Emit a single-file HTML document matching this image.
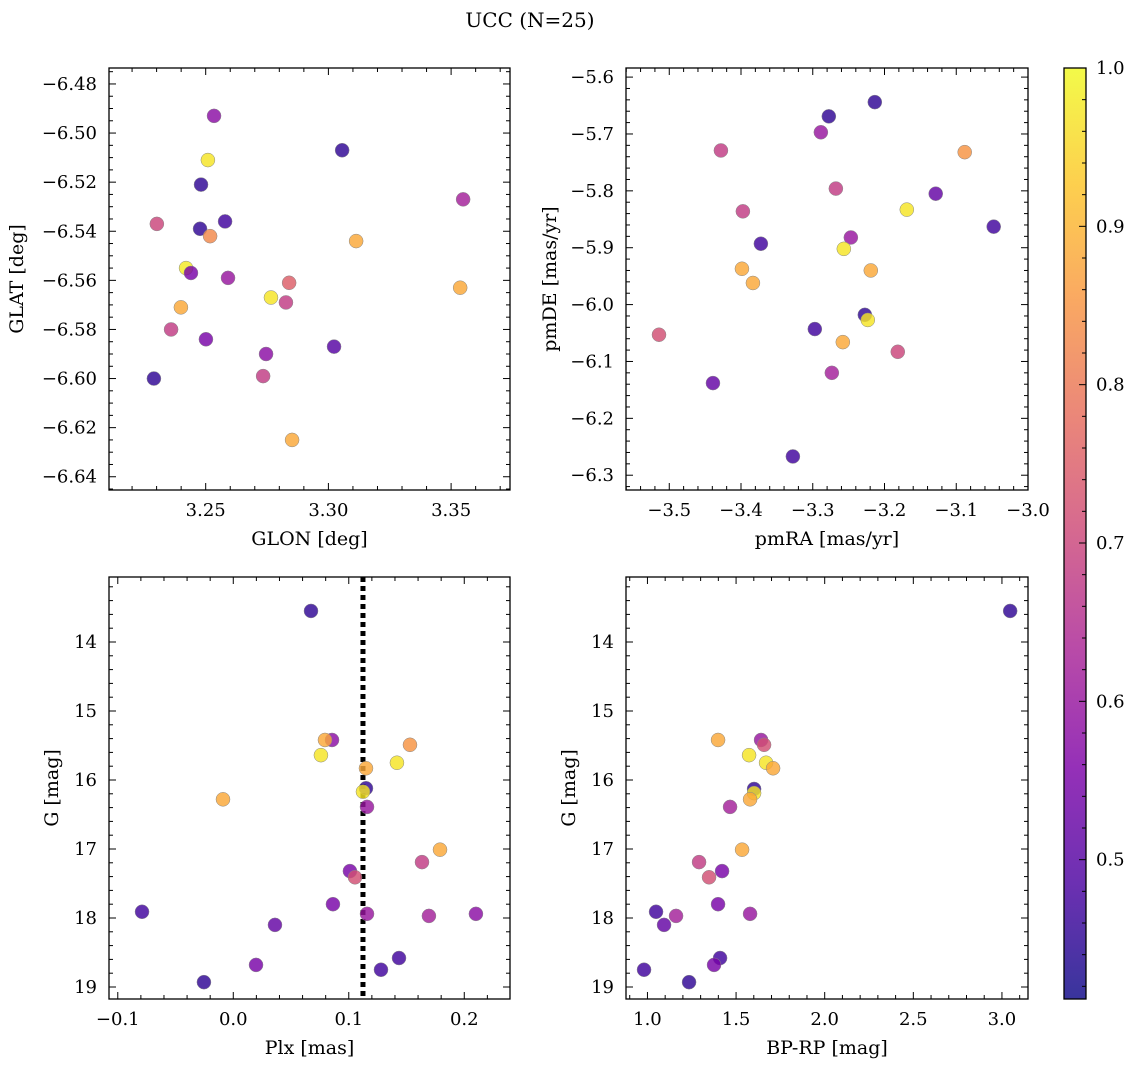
<!DOCTYPE html>
<html><head><meta charset="utf-8"><style>
body{margin:0;background:#fff}
svg text{font-family:"DejaVu Serif","Liberation Serif",serif;fill:#000}
</style></head><body>
<svg id="fig" width="1136" height="1067" viewBox="0 0 1136 1067" xmlns="http://www.w3.org/2000/svg">
<defs><linearGradient id="plasma" x1="0" y1="1" x2="0" y2="0">
<stop offset="0" stop-color="#0d0887"/><stop offset="0.125" stop-color="#4c02a1"/><stop offset="0.25" stop-color="#7e03a8"/><stop offset="0.375" stop-color="#a92395"/><stop offset="0.5" stop-color="#cc4778"/><stop offset="0.625" stop-color="#e66c5c"/><stop offset="0.75" stop-color="#f89540"/><stop offset="0.875" stop-color="#fdc527"/><stop offset="1" stop-color="#f0f921"/></linearGradient></defs>
<text x="530" y="27" font-size="20" text-anchor="middle">UCC (N=25)</text>
</svg>
<script>
// Panel 1: GLON vs GLAT
const glon=[3.2534,3.2509,3.3056,3.2481,3.3549,3.2301,3.2477,3.2579,3.2518,3.3113,3.2420,3.2440,3.2591,3.2840,3.2766,3.2827,3.3537,3.2399,3.2359,3.2501,3.3023,3.2746,3.2289,3.2734,3.2852];
const glat=[-6.493,-6.511,-6.507,-6.521,-6.527,-6.537,-6.539,-6.536,-6.542,-6.544,-6.555,-6.557,-6.559,-6.561,-6.567,-6.569,-6.563,-6.571,-6.580,-6.584,-6.587,-6.590,-6.600,-6.599,-6.625];
const prob1=[0.58,0.97,0.45,0.45,0.62,0.7,0.45,0.47,0.83,0.88,0.98,0.55,0.6,0.75,0.97,0.68,0.88,0.88,0.68,0.55,0.5,0.58,0.45,0.68,0.88];
// Panel 2: pmRA vs pmDE
const pmra=[-3.2135,-3.2776,-3.2887,-3.428,-3.0882,-3.2678,-3.1286,-3.1689,-3.3974,-3.2469,-3.3723,-3.2567,-3.0478,-3.3987,-3.3834,-3.2191,-3.2274,-3.2233,-3.2971,-3.5143,-3.2581,-3.1815,-3.2734,-3.4391,-3.3277];
const pmde=[-5.644,-5.669,-5.697,-5.729,-5.732,-5.796,-5.805,-5.833,-5.836,-5.882,-5.893,-5.902,-5.863,-5.937,-5.962,-5.940,-6.018,-6.027,-6.043,-6.053,-6.066,-6.083,-6.120,-6.138,-6.267];
const prob2=[0.45,0.45,0.6,0.68,0.85,0.68,0.52,0.97,0.68,0.6,0.47,0.97,0.47,0.88,0.88,0.88,0.45,0.97,0.47,0.72,0.88,0.7,0.62,0.52,0.47];
// Panel 3: Plx vs G
const plx=[0.0673,0.0855,0.0794,0.153,0.0759,0.1417,0.1149,0.1149,0.1123,-0.0089,0.1158,0.179,0.1634,0.101,0.1054,0.0863,-0.079,0.1158,0.1694,0.2101,0.0361,0.1435,0.0197,0.1279,-0.0254];
const gmag3=[13.55,15.42,15.42,15.49,15.64,15.75,15.83,16.12,16.17,16.28,16.39,17.01,17.19,17.32,17.41,17.80,17.91,17.94,17.97,17.94,18.10,18.58,18.68,18.75,18.93];
const prob3=[0.45,0.58,0.88,0.85,0.97,0.97,0.88,0.45,0.97,0.88,0.6,0.88,0.68,0.55,0.72,0.55,0.47,0.6,0.62,0.58,0.52,0.47,0.55,0.47,0.45];
const plxLine=[0.1123];
// Panel 4: BP-RP vs G
const bprp=[3.0463,1.3984,1.641,1.658,1.5734,1.6693,1.7088,1.6016,1.6016,1.579,1.4661,1.5339,1.2912,1.421,1.3476,1.3984,1.0485,1.579,1.1614,1.0937,1.4097,1.3758,0.9808,1.2348];
const gmag4=[13.55,15.42,15.42,15.49,15.64,15.75,15.83,16.13,16.19,16.28,16.39,17.01,17.19,17.32,17.41,17.80,17.91,17.94,17.97,18.10,18.58,18.68,18.75,18.93];
const prob4=[0.45,0.88,0.6,0.72,0.97,0.97,0.88,0.45,0.97,0.88,0.62,0.88,0.68,0.55,0.72,0.55,0.47,0.6,0.62,0.52,0.47,0.55,0.47,0.45];
const cbTicks=[0.5,0.6,0.7,0.8,0.9,1.0];

const NS='http://www.w3.org/2000/svg';
const svg=document.getElementById('fig');
function mk(tag,attrs,parent){const e=document.createElementNS(NS,tag);for(const k in attrs)e.setAttribute(k,attrs[k]);(parent||svg).appendChild(e);return e;}
const stops=[[0,[13,8,135]],[0.125,[76,2,161]],[0.25,[126,3,168]],[0.375,[169,35,149]],[0.5,[204,71,120]],[0.625,[230,108,92]],[0.75,[248,149,64]],[0.875,[253,197,39]],[1,[240,249,33]]];
const PMIN=0.412,PMAX=1.0;
function plasma(p){let t=(p-PMIN)/(PMAX-PMIN);t=Math.max(0,Math.min(1,t));for(let i=1;i<stops.length;i++){if(t<=stops[i][0]){const a=stops[i-1],b=stops[i];const f=(t-a[0])/(b[0]-a[0]);const c=a[1].map((v,j)=>Math.round(v+(b[1][j]-v)*f));return 'rgb('+c.join(',')+')';}}return 'rgb(240,249,33)';}
function fmt(v,d){const s=Math.abs(v).toFixed(d);return (v<-1e-9?'\u2212':'')+s;}
const TF=18,LF=19;

function panel(o){
  const g=mk('g',{});
  
  
  const X=v=>o.x0+(v-o.xmin)/(o.xmax-o.xmin)*(o.x1-o.x0);
  const Y=o.yinv?(v=>o.y0+(v-o.ymin)/(o.ymax-o.ymin)*(o.y1-o.y0)):(v=>o.y1-(v-o.ymin)/(o.ymax-o.ymin)*(o.y1-o.y0));
  const tk=mk('g',{stroke:'#000','stroke-width':1},g);
  
  
  const eps=1e-6;
  const xs0=Math.ceil(o.xmin/o.xmi-eps),xs1=Math.floor(o.xmax/o.xmi+eps);
  for(let k=xs0;k<=xs1;k++){const v=k*o.xmi;const px=X(v);const maj=Math.abs(v/o.xma-Math.round(v/o.xma))<1e-6;const L=maj?7:4;
    mk('line',{x1:px,x2:px,y1:o.y1,y2:o.y1-L},tk);mk('line',{x1:px,x2:px,y1:o.y0,y2:o.y0+L},tk);
    if(maj){const t=mk('text',{x:px,y:o.y1+26,'font-size':TF,'text-anchor':'middle'},g);t.textContent=fmt(v,o.xd);
      }}
  const lo=Math.min(o.ymin,o.ymax),hi=Math.max(o.ymin,o.ymax);
  for(let k=Math.ceil(lo/o.ymi-eps);k<=Math.floor(hi/o.ymi+eps);k++){const v=k*o.ymi;const py=Y(v);const maj=Math.abs(v/o.yma-Math.round(v/o.yma))<1e-6;const L=maj?7:4;
    mk('line',{x1:o.x0,x2:o.x0+L,y1:py,y2:py},tk);mk('line',{x1:o.x1,x2:o.x1-L,y1:py,y2:py},tk);
    if(maj){const t=mk('text',{x:o.x0-12,y:py+6,'font-size':TF,'text-anchor':'end'},g);t.textContent=fmt(v,o.yd);
      }}
  if(o.vline){o.vline.forEach(v=>{const l=mk('line',{x1:X(v),x2:X(v),y1:o.y0,y2:o.y1,stroke:'#000','stroke-width':5,'stroke-dasharray':'5,4'},g);
    });}
  for(let i=0;i<o.xs.length;i++){const c=mk('circle',{cx:X(o.xs[i]),cy:Y(o.ys[i]),r:7,fill:plasma(o.ps[i]),'fill-opacity':0.82,stroke:'#888','stroke-width':0.5},g);
    
    }
  const fr=mk('rect',{x:o.x0,y:o.y0,width:o.x1-o.x0,height:o.y1-o.y0,fill:'none',stroke:'#000','stroke-width':1.3},g);
  
  const xl=mk('text',{x:(o.x0+o.x1)/2,y:o.y1+55,'font-size':LF,'text-anchor':'middle'},g);xl.textContent=o.xlabel;
  
  const yx=o.ylx,yy=(o.y0+o.y1)/2;
  const yl=mk('text',{x:yx,y:yy,'font-size':LF,'text-anchor':'middle',transform:'rotate(-90 '+yx+' '+yy+')'},g);yl.textContent=o.ylabel;
  
}
panel({name:'glon-glat-panel',x0:109,x1:510,y0:68,y1:490,xmin:3.2106,xmax:3.374,ymin:-6.6454,ymax:-6.4735,xma:0.05,xmi:0.01,yma:0.02,ymi:0.005,xd:2,yd:2,xs:glon,ys:glat,ps:prob1,xlabel:'GLON [deg]',ylabel:'GLAT [deg]',ylx:23});
panel({name:'pm-panel',x0:626,x1:1028,y0:68,y1:490,xmin:-3.5603,xmax:-3.0,ymin:-6.326,ymax:-5.584,xma:0.1,xmi:0.02,yma:0.1,ymi:0.02,xd:1,yd:1,xs:pmra,ys:pmde,ps:prob2,xlabel:'pmRA [mas/yr]',ylabel:'pmDE [mas/yr]',ylx:556});
panel({name:'plx-g-panel',x0:109,x1:510,y0:577,y1:999,xmin:-0.1076,xmax:0.2396,ymin:13.058,ymax:19.174,yinv:true,xma:0.1,xmi:0.02,yma:1,ymi:0.2,xd:1,yd:0,xs:plx,ys:gmag3,ps:prob3,vline:plxLine,xlabel:'Plx [mas]',ylabel:'G [mag]',ylx:58});
panel({name:'cmd-panel',x0:626,x1:1028,y0:577,y1:999,xmin:0.879,xmax:3.147,ymin:13.058,ymax:19.174,yinv:true,xma:0.5,xmi:0.1,yma:1,ymi:0.2,xd:1,yd:0,xs:bprp,ys:gmag4,ps:prob4,xlabel:'BP-RP [mag]',ylabel:'G [mag]',ylx:575});
const cb=mk('g',{});


const cy0=68,cy1=999,cx0=1064,cx1=1086;
const CY=v=>cy1-(v-PMIN)/(PMAX-PMIN)*(cy1-cy0);
mk('rect',{x:cx0,y:cy0,width:cx1-cx0,height:cy1-cy0,fill:'url(#plasma)','fill-opacity':0.82},cb);
for(let k=21;k<=50;k++){const v=k*0.02;const py=CY(v);const maj=(k%5===0);mk('line',{x1:cx1,x2:cx1-(maj?7:4),y1:py,y2:py,stroke:'#000'},cb);}
cbTicks.forEach(v=>{const t=mk('text',{x:1096,y:CY(v)+6,'font-size':TF},cb);t.textContent=v.toFixed(1);
  });
mk('rect',{x:cx0,y:cy0,width:cx1-cx0,height:cy1-cy0,fill:'none',stroke:'#000','stroke-width':1.3},cb);
</script>
</body></html>
